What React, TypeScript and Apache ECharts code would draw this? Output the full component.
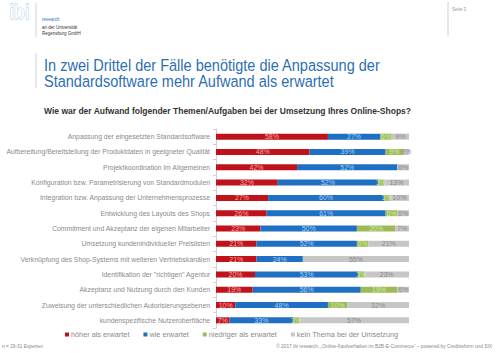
import React, { useEffect, useRef } from "react";
import * as echarts from "echarts";

const categories = [
  "Anpassung der eingesetzten Standardsoftware",
  "Aufbereitung/Bereitstellung der Produktdaten in geeigneter Qualität",
  "Projektkoordination im Allgemeinen",
  "Konfiguration bzw. Parametrisierung von Standardmodulen",
  "Integration bzw. Anpassung der Unternehmensprozesse",
  "Entwicklung des Layouts des Shops",
  "Commitment und Akzeptanz der eigenen Mitarbeiter",
  "Umsetzung kundenindividueller Preislisten",
  "Verknüpfung des Shop-Systems mit weiteren Vertriebskanälen",
  "Identifikation der \"richtigen\" Agentur",
  "Akzeptanz und Nutzung durch den Kunden",
  "Zuweisung der unterschiedlichen Autorisierungsebenen",
  "kundenspezifische Nutzeroberfläche",
];
const hoeher = [58, 48, 42, 32, 27, 26, 23, 21, 21, 20, 19, 10, 7];
const wie = [27, 39, 52, 52, 60, 61, 50, 52, 24, 53, 56, 48, 33];
const niedriger = [6, 9, 0, 3, 3, 6, 20, 6, 0, 3, 19, 10, 3];
const keinThema = [9, 3, 6, 13, 10, 6, 7, 21, 55, 23, 6, 32, 57];

const seriesNames = [
  "höher als erwartet",
  "wie erwartet",
  "niedriger als erwartet",
  "kein Thema bei der Umsetzung",
];

const FONT = "'Liberation Sans', Arial, sans-serif";

export default function App() {
  const ref = useRef<HTMLDivElement>(null);
  useEffect(() => {
    if (!ref.current) return;
    const chart = echarts.init(ref.current, undefined, { renderer: "svg" });
    const all = [hoeher, wie, niedriger, keinThema];
    const sums = categories.map((_, i) => all.reduce((s, a) => s + a[i], 0));
    const colors = ["#c0121b", "#1f6fc2", "#9bbb59", "#c6c6c6"];
    const labelColors = ["#f7a8a8", "#a6cff5", "#d3e6a6", "#8c8c8c"];
    const series = all.map((arr, k) => ({
      name: seriesNames[k],
      type: "bar",
      stack: "total",
      barWidth: 6,
      itemStyle: { color: colors[k] },
      label: {
        show: true,
        position: "inside",
        fontFamily: FONT,
        fontSize: 7,
        color: labelColors[k],
        formatter: (p: any) => (arr[p.dataIndex] > 0 ? arr[p.dataIndex] + "%" : ""),
      },
      data: arr.map((v, i) => (v / sums[i]) * 100),
    }));

    const option: any = {
      animation: false,
      grid: { left: 216, right: 91, top: 129, bottom: 25, containLabel: false },
      xAxis: { type: "value", min: 0, max: 100, show: false },
      yAxis: {
        type: "category",
        inverse: true,
        data: categories,
        axisLine: { show: true, lineStyle: { color: "#d0d0d0", width: 1 } },
        axisTick: { show: true, length: 3, lineStyle: { color: "#d0d0d0" } },
        axisLabel: {
          margin: 6,
          fontFamily: FONT,
          fontSize: 6.85,
          color: "#8a8a8a",
        },
      },
      legend: {
        data: seriesNames,
        left: 65,
        top: 331,
        padding: 0,
        itemWidth: 4,
        itemHeight: 4,
        itemGap: 14,
        icon: "rect",
        textStyle: { fontFamily: FONT, fontSize: 7.3, color: "#8a8a8a", padding: [0, 0, 0, -3] },
      },
      graphic: [
        { type: "text", left: 9, top: 2, style: { text: "ibi", fontFamily: FONT, fontSize: 20, fill: "#ffffff", stroke: "#9cc3e6", lineWidth: 0.8 } },
        { type: "line", shape: { x1: 36, y1: 3, x2: 36, y2: 37 }, style: { stroke: "#d0d0d0", lineWidth: 1 } },
        { type: "text", left: 42, top: 17, style: { text: "research", fontFamily: FONT, fontSize: 4.5, fill: "#2e74c0" } },
        { type: "text", left: 42, top: 25, style: { text: "an der Universität", fontFamily: FONT, fontSize: 4.5, fill: "#333333" } },
        { type: "text", left: 42, top: 31, style: { text: "Regensburg GmbH", fontFamily: FONT, fontSize: 4.5, fill: "#333333" } },
        { type: "line", shape: { x1: 448, y1: 2, x2: 448, y2: 36 }, style: { stroke: "#d0d0d0", lineWidth: 1 } },
        { type: "text", left: 452, top: 7, style: { text: "Seite 3", fontFamily: FONT, fontSize: 4.5, fill: "#999999" } },
        { type: "line", shape: { x1: 36, y1: 53, x2: 36, y2: 88 }, style: { stroke: "#d0d0d0", lineWidth: 1 } },
        { type: "text", x: 44, y: 57, scaleX: 0.855, style: { text: "In zwei Drittel der Fälle benötigte die Anpassung der", fontFamily: FONT, fontSize: 17, fill: "#2e6fb4" } },
        { type: "text", x: 44, y: 73, scaleX: 0.855, style: { text: "Standardsoftware mehr Aufwand als erwartet", fontFamily: FONT, fontSize: 17, fill: "#2e6fb4" } },
        { type: "text", left: 44, top: 106, style: { text: "Wie war der Aufwand folgender Themen/Aufgaben bei der Umsetzung Ihres Online-Shops?", fontFamily: FONT, fontSize: 8.5, fontWeight: "bold", fill: "#333333" } },
        { type: "text", left: 2, top: 344, style: { text: "n = 29-31 Experten", fontFamily: FONT, fontSize: 4.8, fill: "#888888" } },
        { type: "text", right: 8, top: 344, style: { text: "© 2017 ibi research, „Online-Kaufverhalten im B2B-E-Commerce“ – powered by Creditreform und SIX", fontFamily: FONT, fontSize: 4.8, fill: "#888888" } },
      ],
      series,
    };
    chart.setOption(option);
    return () => chart.dispose();
  }, []);
  return (
    <div
      ref={ref}
      style={{ position: "absolute", left: 0, top: 0, width: 500, height: 353, background: "#ffffff" }}
    />
  );
}
